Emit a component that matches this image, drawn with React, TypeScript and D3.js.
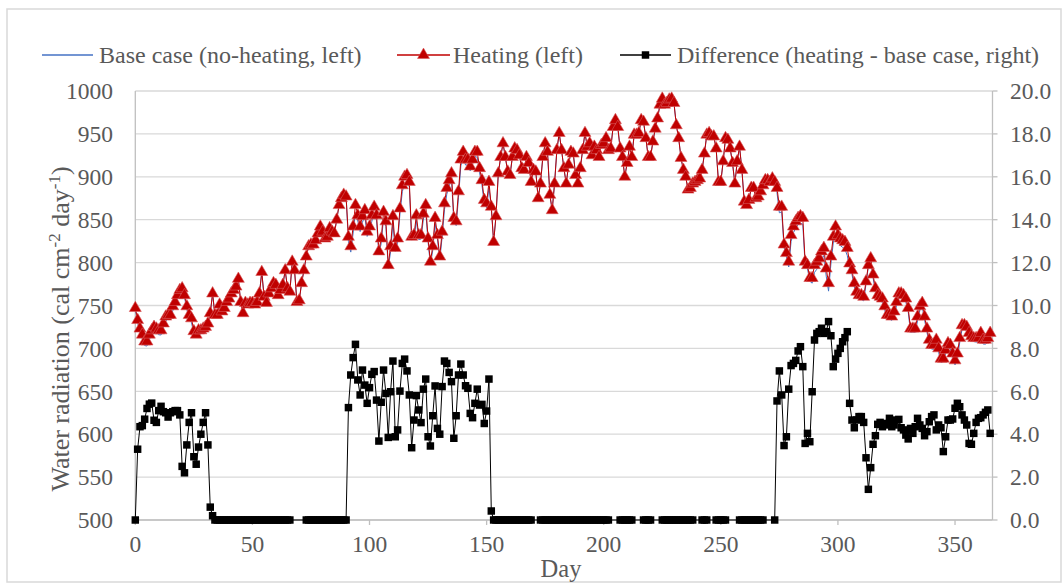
import React from 'react';
import * as d3 from 'd3';

// Heating (left axis), one value per day, day 0..365
const heating: number[] = [
  747, 733, 723, 716, 708, 708, 716, 721, 725, 723,
  721, 721, 729, 737, 739, 739, 749, 754, 762, 768,
  770, 762, 749, 739, 735, 720, 716, 721, 721, 723,
  725, 729, 741, 764, 739, 739, 751, 743, 747, 754,
  758, 764, 768, 772, 781, 754, 741, 753, 751, 753,
  753, 751, 754, 764, 789, 760, 753, 764, 770, 776,
  774, 762, 768, 774, 791, 770, 766, 801, 791, 754,
  756, 776, 791, 807, 819, 821, 821, 826, 834, 842,
  836, 828, 830, 840, 836, 834, 850, 867, 875, 879,
  877, 830, 819, 842, 867, 855, 842, 854, 861, 836,
  842, 855, 865, 855, 813, 828, 859, 848, 797, 819,
  854, 817, 828, 863, 890, 900, 902, 894, 830, 832,
  855, 832, 832, 857, 867, 828, 801, 819, 852, 832,
  807, 836, 869, 887, 896, 904, 852, 848, 883, 920,
  929, 920, 920, 912, 920, 929, 929, 910, 896, 873,
  869, 894, 865, 824, 854, 904, 923, 939, 923, 906,
  902, 923, 933, 931, 925, 910, 908, 923, 916, 894,
  908, 906, 875, 892, 923, 939, 929, 879, 861, 892,
  931, 951, 931, 910, 892, 914, 929, 927, 902, 892,
  910, 931, 951, 935, 939, 925, 935, 931, 923, 937,
  939, 945, 931, 933, 958, 966, 958, 933, 923, 900,
  916, 935, 923, 949, 949, 951, 966, 964, 945, 923,
  923, 941, 956, 968, 984, 991, 984, 986, 990, 991,
  986, 960, 945, 922, 908, 900, 885, 887, 892, 894,
  896, 898, 908, 927, 949, 951, 947, 947, 933, 894,
  894, 918, 945, 943, 933, 916, 892, 918, 935, 908,
  871, 867, 873, 887, 887, 875, 877, 883, 890, 896,
  896, 894, 898, 894, 887, 865, 865, 821, 811, 801,
  832, 842, 848, 852, 854, 852, 801, 797, 782, 782,
  797, 801, 805, 813, 817, 793, 776, 807, 830, 842,
  832, 828, 826, 824, 817, 799, 791, 776, 766, 762,
  762, 760, 778, 797, 805, 786, 770, 762, 760, 758,
  749, 739, 739, 737, 743, 754, 764, 764, 762, 758,
  747, 723, 723, 723, 737, 749, 753, 737, 723, 710,
  704, 704, 710, 700, 688, 688, 698, 706, 704, 694,
  686, 694, 712, 727, 727, 725, 718, 714, 712, 712,
  712, 718, 710, 710, 712, 718,
];

// Difference (heating - base case, right axis), day 0..365; null = no marker
const difference: (number | null)[] = [
  0, 3.3, 4.35, 4.4, 4.7, 5.2, 5.4, 5.45, 4.65, 4.55,
  5.1, 5.3, 5.05, 5.0, 4.8, 5.0, 5.05, 5.1, 5.1, 4.9,
  2.5, 2.2, 3.5, 4.55, 5.0, 2.95, 2.6, 3.4, 4.0, 4.55,
  5.0, 3.5, 0.6, 0.2, 0, 0, 0, 0, 0, 0,
  0, 0, 0, 0, 0, 0, 0, 0, 0, 0,
  0, 0, 0, 0, 0, 0, 0, 0, 0, 0,
  0, 0, 0, 0, 0, 0, 0, null, null, null,
  null, null, null, 0, 0, 0, 0, 0, 0, 0,
  0, 0, 0, 0, 0, 0, 0, 0, 0, 0,
  0, 5.24, 6.76, 7.57, 8.19, 6.53, 5.83, 6.99, 6.29, 5.44,
  6.17, 6.79, 6.92, 5.59, 3.68, 5.49, 6.99, 5.9, 3.85, 5.98,
  7.41, 3.88, 4.2, 6.01, 7.3, 7.5, 6.95, 5.83, 3.37, 4.66,
  5.8, 5.13, 4.54, 6.1, 6.57, 3.88, 3.45, 4.86, 6.25, 4.27,
  4.0, 6.22, 7.41, 7.3, 6.88, 6.45, 3.81, 4.86, 6.76, 7.27,
  6.76, 6.26, 6.14, 4.97, 4.77, 5.44, 6.1, 5.36, 5.39, 4.5,
  5.08, 6.57, 0.42, 0, 0, 0, 0, 0, 0, 0,
  0, 0, 0, 0, 0, 0, 0, 0, 0, 0,
  null, null, null, 0, 0, 0, 0, 0, 0, 0,
  0, 0, 0, 0, 0, 0, 0, 0, 0, 0,
  0, 0, 0, 0, 0, 0, 0, 0, 0, 0,
  0, 0, 0, null, null, null, null, 0, 0, 0,
  0, 0, 0, null, null, null, null, 0, 0, 0,
  0, null, null, null, null, 0, 0, 0, 0, 0,
  0, 0, 0, 0, 0, 0, 0, 0, 0, null,
  null, null, 0, 0, 0, null, null, null, 0, 0,
  0, 0, 0, null, null, null, null, null, 0, 0,
  0, 0, 0, 0, 0, 0, 0, 0, 0, null,
  null, null, null, 0, 5.55, 6.95, 5.83, 3.47, 3.88, 6.1,
  7.2, 7.3, 7.44, 7.88, 8.08, 7.15, 3.57, 4.04, 3.65, 5.98,
  8.39, 8.7, 8.78, 8.94, 8.7, 8.78, 9.25, 8.59, 7.15, 7.5,
  7.77, 8.0, 8.31, 8.5, 8.78, 5.44, 4.66, 4.3, 4.66, 4.82,
  4.82, 4.55, 2.9, 1.43, 2.44, 3.53, 3.93, 4.46, 4.55, 4.35,
  4.5, 4.43, 4.74, 4.35, 4.43, 4.66, 4.69, 4.3, 4.2, 3.96,
  3.78, 4.27, 4.04, 4.35, 4.74, 4.43, 4.27, 3.93, 4.12, 4.58,
  4.82, 4.9, 4.2, 4.43, 4.3, 3.19, 3.88, 4.66, 4.66, 4.71,
  5.21, 5.44, 5.28, 4.9, 4.66, 4.43, 3.57, 3.53, 4.04, 4.55,
  4.74, 4.77, 4.9, 5.02, 5.13, 4.04,
];

const leftTicks = [500, 550, 600, 650, 700, 750, 800, 850, 900, 950, 1000];
const rightTicks = [0, 2, 4, 6, 8, 10, 12, 14, 16, 18, 20];
const dayTicks = [0, 50, 100, 150, 200, 250, 300, 350];

const legendLabels = [
  'Base case (no-heating, left)',
  'Heating (left)',
  'Difference (heating - base case, right)',
];

const FONT = '"Liberation Serif", "Times New Roman", serif';
const TXT = '#595959';
const GRID = '#D9D9D9';
const AXIS = '#BFBFBF';
const RED = '#C00000';
const BLUE = '#4472C4';

export default function App() {
  const W = 1063;
  const H = 584;
  const x = d3.scaleLinear().domain([0, 366]).range([135.3, 992.5]);
  const yL = d3.scaleLinear().domain([500, 1000]).range([520, 91]);
  const yR = d3.scaleLinear().domain([0, 20]).range([520, 91]);

  const days = heating.map((_, i) => i);
  const base = heating.map((h, i) => h - (difference[i] ?? 0));

  const lineL = d3
    .line<number>()
    .x((_, i) => x(days[i]))
    .y((v) => yL(v));

  const diffPts = days
    .filter((d) => difference[d] !== null)
    .map((d) => [d, difference[d] as number] as [number, number]);
  const lineR = d3
    .line<[number, number]>()
    .x((p) => x(p[0]))
    .y((p) => yR(p[1]));

  const tri = d3.symbol().type(d3.symbolTriangle).size(62)() as string;
  const sq = d3.symbol().type(d3.symbolSquare).size(56)() as string;

  const legendY = 55;

  return (
    <svg
      width={W}
      height={H}
      style={{ position: 'absolute', left: 0, top: 0, background: '#fff' }}
      fontFamily={FONT}
    >
      <rect x={0} y={0} width={W} height={H} fill="#fff" />
      <rect x={7} y={9} width={1054} height={573} fill="none" stroke={GRID} strokeWidth={1.5} />

      {/* gridlines */}
      {leftTicks.map((t) => (
        <line key={'g' + t} x1={x(0)} x2={x(366)} y1={yL(t)} y2={yL(t)} stroke={GRID} strokeWidth={1.3} />
      ))}

      {/* axes */}
      <line x1={x(0)} x2={x(0)} y1={yL(1000)} y2={yL(500)} stroke={AXIS} strokeWidth={1.3} />
      <line x1={x(0)} x2={x(366)} y1={yL(500)} y2={yL(500)} stroke={AXIS} strokeWidth={1.3} />
      <line x1={x(366)} x2={x(366)} y1={yR(20)} y2={yR(0)} stroke={AXIS} strokeWidth={1.3} />
      {dayTicks.map((t) => (
        <line key={'xt' + t} x1={x(t)} x2={x(t)} y1={520} y2={525} stroke={AXIS} strokeWidth={1.3} />
      ))}
      {rightTicks.map((t) => (
        <line key={'rt' + t} x1={x(366)} x2={x(366) + 5} y1={yR(t)} y2={yR(t)} stroke={AXIS} strokeWidth={1.3} />
      ))}

      {/* tick labels */}
      {leftTicks.map((t) => (
        <text key={'lt' + t} x={113} y={yL(t)} dy="0.35em" textAnchor="end" fontSize={23.5} fill={TXT}>
          {t}
        </text>
      ))}
      {rightTicks.map((t) => (
        <text key={'rl' + t} x={1010} y={yR(t)} dy="0.35em" textAnchor="start" fontSize={23.5} fill={TXT}>
          {t.toFixed(1)}
        </text>
      ))}
      {dayTicks.map((t) => (
        <text key={'xl' + t} x={x(t)} y={552} textAnchor="middle" fontSize={23.5} fill={TXT}>
          {t}
        </text>
      ))}

      {/* axis titles */}
      <text x={561} y={577} textAnchor="middle" fontSize={24.5} fill={TXT}>
        Day
      </text>
      <text
        transform="translate(69,329) rotate(-90)"
        textAnchor="middle"
        fontSize={26}
        fill={TXT}
      >
        Water radiation (cal cm
        <tspan baselineShift="super" fontSize={17}>-2</tspan>
        <tspan> day</tspan>
        <tspan baselineShift="super" fontSize={17}>-1</tspan>
        <tspan>)</tspan>
      </text>

      {/* base case */}
      <path d={lineL(base) || ''} fill="none" stroke={BLUE} strokeWidth={1} />

      {/* heating */}
      <path d={lineL(heating) || ''} fill="none" stroke={RED} strokeWidth={1} />
      {heating.map((v, i) => (
        <path key={'h' + i} d={tri} transform={`translate(${x(days[i])},${yL(v)})`} fill={RED} stroke="#D9595B" strokeWidth={0.6} />
      ))}

      {/* difference */}
      <path d={lineR(diffPts) || ''} fill="none" stroke="#000" strokeWidth={1} />
      {diffPts.map((p) => (
        <path key={'d' + p[0]} d={sq} transform={`translate(${x(p[0])},${yR(p[1])})`} fill="#000" />
      ))}

      {/* legend */}
      <line x1={42} x2={93} y1={legendY} y2={legendY} stroke={BLUE} strokeWidth={1.3} />
      <text x={99} y={legendY} dy="0.33em" fontSize={24} fill={TXT}>{legendLabels[0]}</text>

      <line x1={397} x2={450} y1={legendY} y2={legendY} stroke={RED} strokeWidth={1.3} />
      <path d={tri} transform={`translate(423.5,${legendY})`} fill={RED} stroke="#D9595B" strokeWidth={0.6} />
      <text x={453} y={legendY} dy="0.33em" fontSize={24} fill={TXT}>{legendLabels[1]}</text>

      <line x1={620} x2={671} y1={legendY} y2={legendY} stroke="#000" strokeWidth={1.3} />
      <path d={sq} transform={`translate(645.5,${legendY})`} fill="#000" />
      <text x={677} y={legendY} dy="0.33em" fontSize={24} fill={TXT}>{legendLabels[2]}</text>
    </svg>
  );
}
